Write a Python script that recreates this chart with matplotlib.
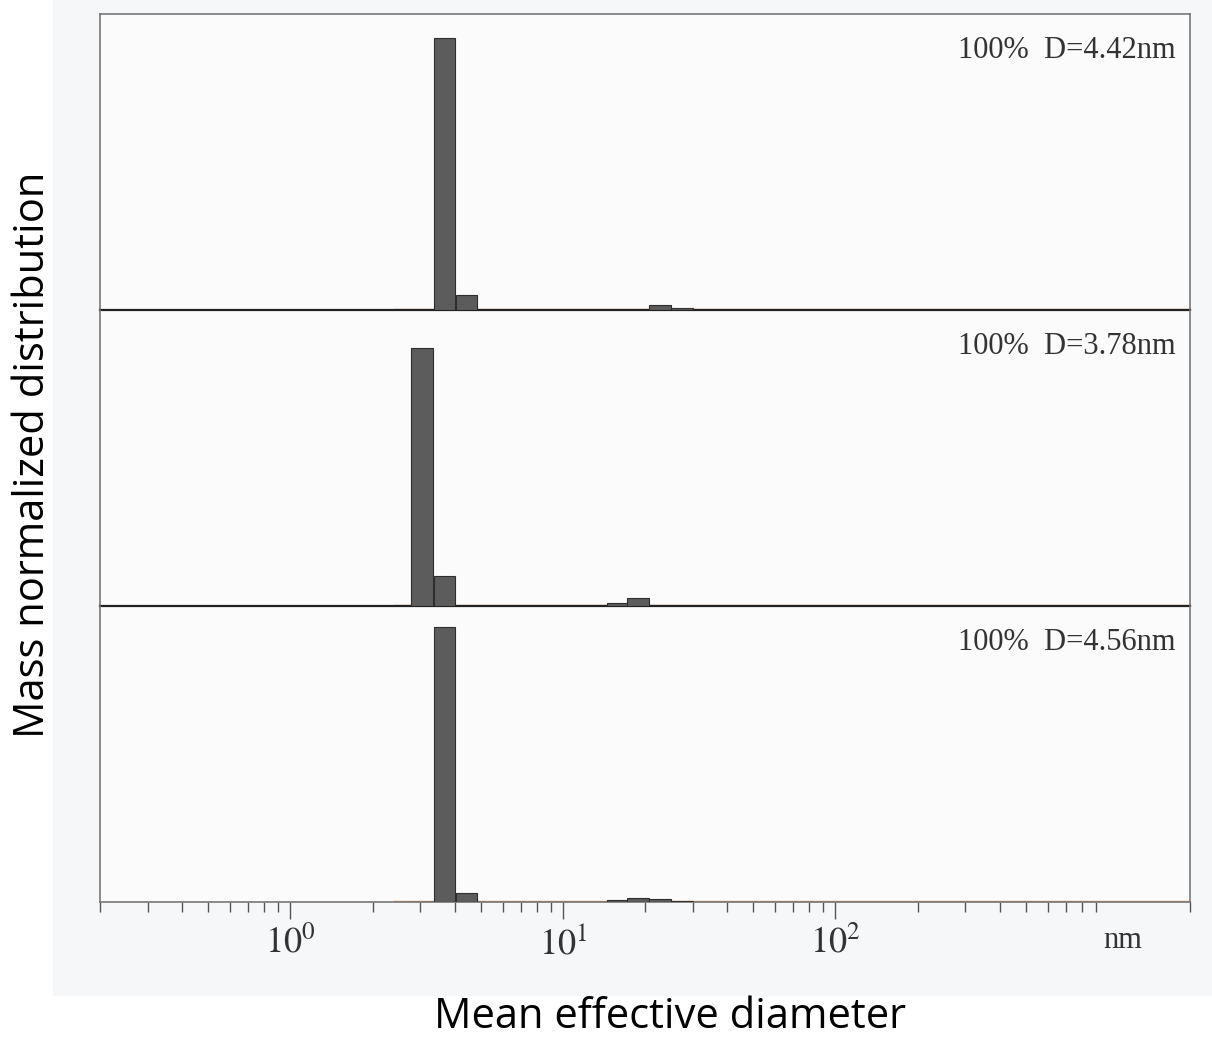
import matplotlib.pyplot as plt
from matplotlib.patches import Rectangle

plt.rcParams['mathtext.fontset'] = 'stix'

# bin lower edges (nm), bins are geometric with ratio ~1.2
BIN_LEFT = [2.78, 3.36, 4.04, 14.5, 17.2, 20.7, 24.9]
BIN_RATIO = 1.2

# heights (% of panel scale) for each bin, top to bottom panel
HEIGHTS = [
    [0.0, 92.0, 5.1, 0.0, 0.0, 1.7, 0.7],
    [87.0, 10.1, 0.0, 1.0, 2.7, 0.0, 0.0],
    [0.0, 93.0, 3.1, 0.7, 1.4, 1.0, 0.3],
]
LABELS = ["100%  D=4.42nm", "100%  D=3.78nm", "100%  D=4.56nm"]

XMIN, XMAX = 0.2, 2000
SCAN_START = 2.4   # where the measured (orange) baseline starts

fig = plt.figure(figsize=(12.12, 10.4), dpi=100, facecolor="white")
# faint scanned-paper background
fig.add_artist(Rectangle((53 / 1212, 45 / 1040), 1 - 53 / 1212, 1 - 45 / 1040,
                         transform=fig.transFigure, color="#f6f7f9", zorder=-10))

left = 100 / 1212
width = 1090 / 1212
panel_h = 296 / 1040
bottom0 = (1040 - 902) / 1040

fig.add_artist(Rectangle((left, bottom0), width, 3 * panel_h,
                         transform=fig.transFigure, color="#fbfbfc", zorder=-5))

axes = []
for i in range(3):
    b = bottom0 + (2 - i) * panel_h
    ax = fig.add_axes([left, b, width, panel_h])
    ax.set_facecolor("none")
    axes.append(ax)

for i, ax in enumerate(axes):
    widths = [e * (BIN_RATIO - 1) for e in BIN_LEFT]
    ax.bar(BIN_LEFT, HEIGHTS[i], width=widths, align="edge",
           color="#5c5c5c", edgecolor="#2e2e2e", linewidth=0.8, zorder=3)
    ax.set_xscale("log")
    ax.set_xlim(XMIN, XMAX)
    ax.set_ylim(0, 100)
    ax.set_yticks([])
    ax.plot([SCAN_START, XMAX], [0.45, 0.45], color="#e8915a", lw=1.0, zorder=2,
            clip_on=False)
    ax.text(0.987, 0.878, LABELS[i], transform=ax.transAxes, ha="right", va="center",
            family="Liberation Serif", fontsize=22, color="#333333")
    for s in ["left", "right", "top"]:
        ax.spines[s].set_color("#777777")
        ax.spines[s].set_linewidth(1.2)
    if i > 0:
        ax.spines["top"].set_visible(False)
    if i < 2:
        ax.spines["bottom"].set_color("#222222")
        ax.spines["bottom"].set_linewidth(1.6)
        ax.tick_params(axis="x", which="both", bottom=False, labelbottom=False)
    else:
        ax.spines["bottom"].set_color("#777777")
        ax.spines["bottom"].set_linewidth(1.2)
        ax.tick_params(axis="x", which="major", direction="out", length=12, width=1,
                       color="#555555", labelsize=26, pad=5, labelcolor="#333333")
        ax.tick_params(axis="x", which="minor", direction="out", length=7, width=1,
                       color="#555555")
        ax.set_xticks([1, 10, 100])
        ax.set_xticklabels([r"$10^0$", r"$10^1$", r"$10^2$"])
        ax.text(1135, -0.13, "nm", transform=ax.get_xaxis_transform(), ha="center",
                va="center", family="Liberation Serif", fontsize=22, color="#333333")

fig.text(0.027, (1040 - 455) / 1040, "Mass normalized distribution", rotation=90,
         ha="center", va="center", family="Open Sans", fontsize=30)
fig.text(670 / 1212, (1040 - 1017) / 1040, "Mean effective diameter",
         ha="center", va="center", family="Open Sans", fontsize=30)

fig.savefig("out.png", dpi=100, facecolor=fig.get_facecolor())
